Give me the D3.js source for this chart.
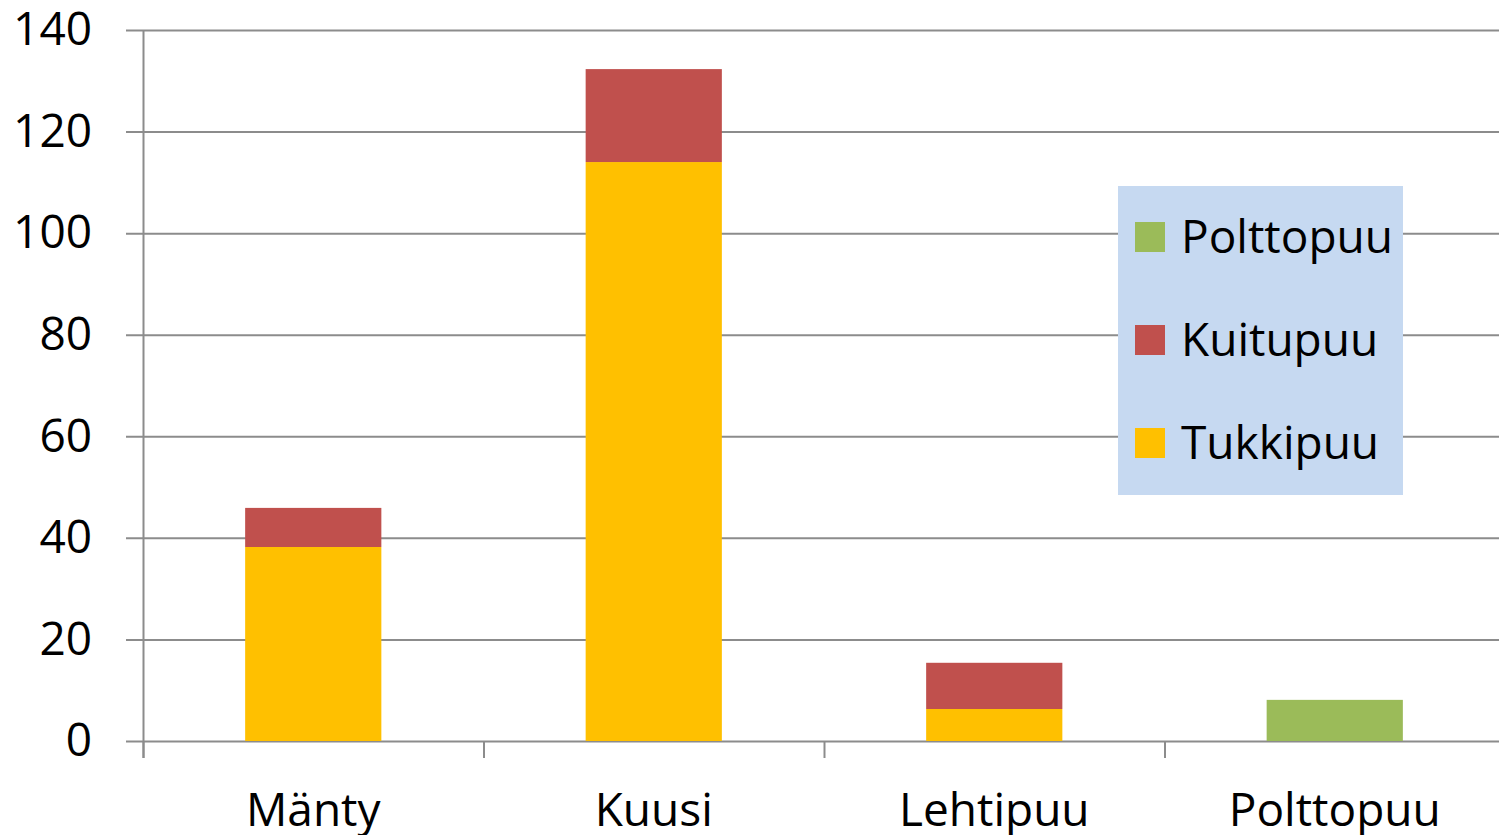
<!DOCTYPE html>
<html>
<head>
<meta charset="utf-8">
<script src="https://cdn.jsdelivr.net/npm/d3@7"></script>
<style>
  body { margin: 0; background: #fff; }
  text { font-family: "Open Sans", sans-serif; fill: #000; }
</style>
</head>
<body>
<div id="chart"></div>
<script>
// data
var categories = ["Mänty", "Kuusi", "Lehtipuu", "Polttopuu"];
var tukkipuu  = [38.2, 114.0, 6.3, 0];
var kuitupuu  = [7.7, 18.3, 9.1, 0];
var polttopuu = [0, 0, 0, 8.1];
var yTicks = [0, 20, 40, 60, 80, 100, 120, 140];
var seriesNames = ["Tukkipuu", "Kuitupuu", "Polttopuu"];
var seriesColors = ["#ffc000", "#c0504d", "#9bbb59"];

var width = 1499, height = 835;

var svg = d3.select("#chart").append("svg")
    .attr("width", width)
    .attr("height", height);

// build rows for stacking
var rows = categories.map(function(c, i) {
  return { cat: c, Tukkipuu: tukkipuu[i], Kuitupuu: kuitupuu[i], Polttopuu: polttopuu[i] };
});
var stacked = d3.stack().keys(seriesNames)(rows);

var x = d3.scaleBand()
    .domain(categories)
    .range([143, 1505])
    .padding(0);
var y = d3.scaleLinear()
    .domain([0, 140])
    .range([741, 30]);

// gridlines
svg.append("g")
  .selectAll("line")
  .data(yTicks)
  .enter().append("line")
    .attr("x1", 126)
    .attr("x2", width)
    .attr("y1", function(d) { return y(d) + 0.5; })
    .attr("y2", function(d) { return y(d) + 0.5; })
    .attr("stroke", "#8c8c8c")
    .attr("stroke-width", 2);

// y axis labels
svg.append("g")
    .attr("transform", "translate(126,0)")
    .call(d3.axisLeft(y).tickValues(yTicks).tickSize(0).tickPadding(34))
    .call(g => g.select(".domain").remove())
    .call(g => g.selectAll("text")
        .attr("font-size", 46)
        .attr("font-family", "'Open Sans', sans-serif")
        .attr("fill", "#000"));

// bars
var barW = x.bandwidth() * 0.4;
svg.append("g")
  .selectAll("g")
  .data(stacked)
  .enter().append("g")
    .attr("fill", function(d, i) { return seriesColors[i]; })
  .selectAll("rect")
  .data(function(d) { return d; })
  .enter().append("rect")
    .attr("x", function(d) { return x(d.data.cat) + (x.bandwidth() - barW) / 2; })
    .attr("width", barW)
    .attr("y", function(d) { return y(d[1]); })
    .attr("height", function(d) { return y(d[0]) - y(d[1]); });

// vertical axis line
svg.append("line")
    .attr("x1", 143.5).attr("x2", 143.5)
    .attr("y1", 30).attr("y2", 758)
    .attr("stroke", "#8c8c8c")
    .attr("stroke-width", 2);

// x axis
svg.append("g")
    .attr("transform", "translate(0,741)")
    .call(d3.axisBottom(x).tickSize(0).tickPadding(85))
    .call(g => g.select(".domain").remove())
    .call(g => g.selectAll("text")
        .attr("dy", null)
        .attr("font-size", 46)
        .attr("font-family", "'Open Sans', sans-serif")
        .attr("fill", "#000"));

// category boundary ticks
svg.append("g")
  .selectAll("line")
  .data(categories)
  .enter().append("line")
    .attr("x1", function(d) { return x(d) + 0.5; })
    .attr("x2", function(d) { return x(d) + 0.5; })
    .attr("y1", 741)
    .attr("y2", 758)
    .attr("stroke", "#8c8c8c")
    .attr("stroke-width", 2);

// legend
var legend = svg.append("g").attr("transform", "translate(1118,186)");
legend.append("rect")
    .attr("width", 285)
    .attr("height", 309)
    .attr("fill", "#c6d9f1");

var legendOrder = [2, 1, 0];
legendOrder.forEach(function(si, k) {
  var cy = 51 + k * 103;
  legend.append("rect")
      .attr("x", 17)
      .attr("y", cy - 15)
      .attr("width", 30)
      .attr("height", 30)
      .attr("fill", seriesColors[si]);
  legend.append("text")
      .attr("x", 63)
      .attr("y", cy + 16)
      .attr("font-size", 46)
      .text(seriesNames[si]);
});
</script>
</body>
</html>
